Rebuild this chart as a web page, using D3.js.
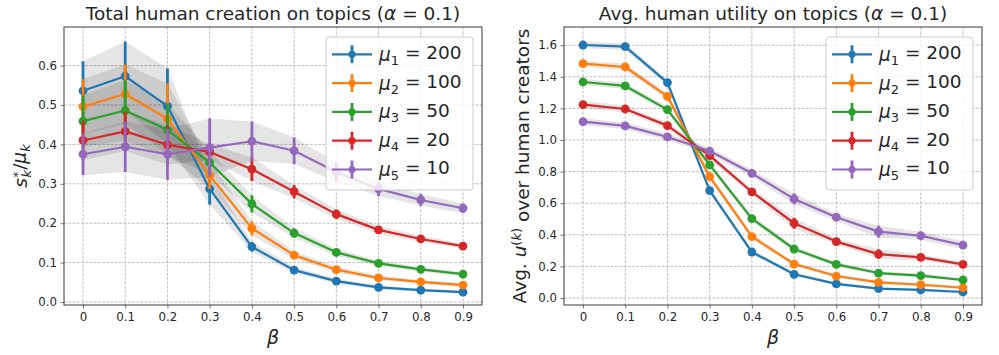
<!DOCTYPE html>
<html>
<head>
<meta charset="utf-8">
<script src="https://cdn.jsdelivr.net/npm/d3@7"></script>
<style>
  html, body { margin: 0; padding: 0; background: #fff; }
  svg { display: block; font-family: "DejaVu Sans", sans-serif; }
</style>
</head>
<body>
<svg id="chart" width="999" height="355"></svg>
<script>
// ---------------- DATA ----------------
const betas = [0, 0.1, 0.2, 0.3, 0.4, 0.5, 0.6, 0.7, 0.8, 0.9];
const xTickLabels = ["0", "0.1", "0.2", "0.3", "0.4", "0.5", "0.6", "0.7", "0.8", "0.9"];
const seriesNames = ["1", "2", "3", "4", "5"];
const seriesMu = ["200", "100", "50", "20", "10"];
const colors = ["#1f77b4", "#ff7f0e", "#2ca02c", "#d62728", "#9467bd"];

// Left panel: s*_k / mu_k
const leftTicks = [0.0, 0.1, 0.2, 0.3, 0.4, 0.5, 0.6];
const leftTickLabels = ["0.0", "0.1", "0.2", "0.3", "0.4", "0.5", "0.6"];
const s1 = [0.536, 0.573, 0.497, 0.287, 0.140, 0.081, 0.053, 0.037, 0.030, 0.025];
const s2 = [0.496, 0.528, 0.465, 0.322, 0.187, 0.119, 0.082, 0.061, 0.051, 0.043];
const s3 = [0.459, 0.486, 0.437, 0.354, 0.249, 0.175, 0.126, 0.098, 0.083, 0.071];
const s4 = [0.410, 0.433, 0.399, 0.381, 0.337, 0.280, 0.223, 0.183, 0.160, 0.142];
const s5 = [0.375, 0.394, 0.375, 0.392, 0.408, 0.384, 0.330, 0.287, 0.259, 0.238];
const se1 = [0.075, 0.088, 0.096, 0.040, 0.012, 0.008, 0.006, 0.005, 0.004, 0.004];
const se2 = [0.070, 0.075, 0.090, 0.035, 0.018, 0.010, 0.008, 0.006, 0.005, 0.005];
const se3 = [0.065, 0.077, 0.067, 0.030, 0.022, 0.012, 0.009, 0.007, 0.006, 0.005];
const se4 = [0.050, 0.050, 0.050, 0.020, 0.030, 0.017, 0.012, 0.010, 0.008, 0.007];
const se5 = [0.053, 0.064, 0.065, 0.074, 0.050, 0.034, 0.025, 0.018, 0.015, 0.012];

// Right panel: avg u^(k) over human creators
const rightTicks = [0.0, 0.2, 0.4, 0.6, 0.8, 1.0, 1.2, 1.4, 1.6];
const rightTickLabels = ["0.0", "0.2", "0.4", "0.6", "0.8", "1.0", "1.2", "1.4", "1.6"];
const u1 = [1.601, 1.591, 1.363, 0.679, 0.291, 0.150, 0.089, 0.059, 0.051, 0.038];
const u2 = [1.483, 1.462, 1.276, 0.768, 0.388, 0.215, 0.139, 0.099, 0.084, 0.065];
const u3 = [1.367, 1.342, 1.192, 0.842, 0.502, 0.310, 0.213, 0.158, 0.141, 0.114];
const u4 = [1.224, 1.196, 1.091, 0.901, 0.671, 0.473, 0.357, 0.278, 0.257, 0.213];
const u5 = [1.116, 1.089, 1.019, 0.930, 0.789, 0.627, 0.511, 0.420, 0.394, 0.335];
const ue1 = [0.020, 0.020, 0.020, 0.020, 0.015, 0.012, 0.010, 0.008, 0.008, 0.008];
const ue2 = [0.020, 0.020, 0.020, 0.020, 0.018, 0.014, 0.012, 0.010, 0.010, 0.010];
const ue3 = [0.020, 0.020, 0.020, 0.020, 0.020, 0.018, 0.015, 0.012, 0.012, 0.012];
const ue4 = [0.022, 0.022, 0.022, 0.022, 0.022, 0.035, 0.018, 0.030, 0.018, 0.015];
const ue5 = [0.022, 0.022, 0.022, 0.022, 0.022, 0.035, 0.022, 0.038, 0.025, 0.025];

// ---------------- LAYOUT ----------------
const svg = d3.select("#chart");
const plotTop = 27, plotBottom = 305;

const panels = [
  {
    x0: 64, x1: 482,
    yDomain: [-0.0076, 0.698],
    ticks: leftTicks, tickLabels: leftTickLabels,
    means: [s1, s2, s3, s4, s5], errs: [se1, se2, se3, se4, se5],
    title: "left", ylabel: "left", labelX: 21
  },
  {
    x0: 564, x1: 982,
    yDomain: [-0.0443, 1.715],
    ticks: rightTicks, tickLabels: rightTickLabels,
    means: [u1, u2, u3, u4, u5], errs: [ue1, ue2, ue3, ue4, ue5],
    title: "right", ylabel: "right", labelX: 520
  }
];

const textColor = "#262626";

panels.forEach(p => {
  const x = d3.scaleLinear().domain([-0.045, 0.945]).range([p.x0, p.x1]);
  const y = d3.scaleLinear().domain(p.yDomain).range([plotBottom, plotTop]);
  const g = svg.append("g");

  // grid
  const grid = g.append("g");
  grid.selectAll("line.gx").data(betas).join("line")
    .attr("x1", d => x(d)).attr("x2", d => x(d))
    .attr("y1", plotTop).attr("y2", plotBottom)
    .attr("stroke", "#b0b0b0").attr("stroke-width", 0.8).attr("stroke-dasharray", "2.96,1.28");
  grid.selectAll("line.gy").data(p.ticks).join("line")
    .attr("x1", p.x0).attr("x2", p.x1)
    .attr("y1", d => y(d)).attr("y2", d => y(d))
    .attr("stroke", "#b0b0b0").attr("stroke-width", 0.8).attr("stroke-dasharray", "2.96,1.28");

  // bands
  const area = d3.area()
    .x((d, i) => x(betas[i]))
    .y0(d => y(d[0] - d[1]))
    .y1(d => y(d[0] + d[1]));
  p.means.forEach((m, si) => {
    const pts = m.map((v, i) => [v, p.errs[si][i]]);
    g.append("path").attr("d", area(pts))
      .attr("fill", "#000").attr("fill-opacity", 0.1).attr("stroke", "none");
  });

  // series
  const line = d3.line().x((d, i) => x(betas[i])).y(d => y(d));
  p.means.forEach((m, si) => {
    const sg = g.append("g");
    sg.selectAll("line.err").data(m).join("line")
      .attr("x1", (d, i) => x(betas[i])).attr("x2", (d, i) => x(betas[i]))
      .attr("y1", (d, i) => y(d - p.errs[si][i])).attr("y2", (d, i) => y(d + p.errs[si][i]))
      .attr("stroke", colors[si]).attr("stroke-width", 2.8);
    sg.append("path").attr("d", line(m))
      .attr("fill", "none").attr("stroke", colors[si]).attr("stroke-width", 2.2)
      .attr("stroke-linejoin", "round");
    sg.selectAll("circle").data(m).join("circle")
      .attr("cx", (d, i) => x(betas[i])).attr("cy", d => y(d))
      .attr("r", 4.4).attr("fill", colors[si]);
  });

  // axes
  const xAxis = d3.axisBottom(x).tickValues(betas)
    .tickFormat((d, i) => xTickLabels[i]).tickSize(3.5).tickPadding(3.5);
  const yAxis = d3.axisLeft(y).tickValues(p.ticks)
    .tickFormat((d, i) => p.tickLabels[i]).tickSize(3.5).tickPadding(3.5);
  const gx = g.append("g").attr("transform", `translate(0,${plotBottom})`).call(xAxis);
  const gy = g.append("g").attr("transform", `translate(${p.x0},0)`).call(yAxis);
  [gx, gy].forEach(a => {
    a.select(".domain").remove();
    a.selectAll(".tick line").attr("stroke", "#555").attr("stroke-width", 0.8);
    a.selectAll(".tick text").attr("fill", textColor)
      .style("font-family", "DejaVu Sans").style("font-size", "11.8px");
  });
  gx.selectAll(".tick text").attr("dy", "0.75em");

  // frame
  g.append("rect").attr("x", p.x0).attr("y", plotTop)
    .attr("width", p.x1 - p.x0).attr("height", plotBottom - plotTop)
    .attr("fill", "none").attr("stroke", "#3a3a3a").attr("stroke-width", 1);

  const cx = (p.x0 + p.x1) / 2;
  // title
  const t = g.append("text").attr("x", cx).attr("y", 20).attr("text-anchor", "middle")
    .attr("fill", textColor).style("font-size", "18.5px");
  t.append("tspan").text(p.title === "left" ? "Total human creation on topics (" : "Avg. human utility on topics (");
  t.append("tspan").style("font-style", "italic").text("α");
  t.append("tspan").text(" = 0.1)");

  // x label
  g.append("text").attr("x", cx).attr("y", 344).attr("text-anchor", "middle")
    .attr("fill", textColor).style("font-size", "19px").style("font-style", "italic").text("β");

  // y label
  const yl = g.append("text")
    .attr("transform", `translate(${p.labelX},${(plotTop + plotBottom) / 2}) rotate(-90)`)
    .attr("text-anchor", "middle").attr("dy", "0.35em")
    .attr("fill", textColor).style("font-size", "18.5px");
  if (p.ylabel === "left") {
    yl.append("tspan").style("font-style", "italic").text("s");
    yl.append("tspan").attr("dy", "-0.45em").style("font-size", "13px").text("*");
    yl.append("tspan").attr("dx", "-0.45em").attr("dy", "0.75em").style("font-size", "13px").style("font-style", "italic").text("k");
    yl.append("tspan").attr("dy", "-0.3em").text("/");
    yl.append("tspan").style("font-style", "italic").text("μ");
    yl.append("tspan").attr("dy", "0.3em").style("font-size", "13px").style("font-style", "italic").text("k");
  } else {
    yl.append("tspan").text("Avg. ");
    yl.append("tspan").style("font-style", "italic").text("u");
    yl.append("tspan").attr("dy", "-0.45em").style("font-size", "13px").text("(");
    yl.append("tspan").style("font-size", "13px").style("font-style", "italic").text("k");
    yl.append("tspan").style("font-size", "13px").text(")");
    yl.append("tspan").attr("dy", "0.45em").text(" over human creators");
  }

  // legend
  const lx = p.x1 - 156, ly = 37, lw = 147, lh = 153;
  const lg = g.append("g");
  lg.append("rect").attr("x", lx).attr("y", ly).attr("width", lw).attr("height", lh)
    .attr("rx", 3).attr("fill", "#fff").attr("fill-opacity", 0.8)
    .attr("stroke", "#cccccc").attr("stroke-width", 1);
  seriesNames.forEach((nm, si) => {
    const ry = 54.3 + si * 28.8;
    const hx0 = lx + 6, hx1 = lx + 46, hc = (hx0 + hx1) / 2;
    lg.append("line").attr("x1", hx0).attr("x2", hx1).attr("y1", ry).attr("y2", ry)
      .attr("stroke", colors[si]).attr("stroke-width", 2.2);
    lg.append("line").attr("x1", hc).attr("x2", hc).attr("y1", ry - 9).attr("y2", ry + 9)
      .attr("stroke", colors[si]).attr("stroke-width", 2.8);
    lg.append("circle").attr("cx", hc).attr("cy", ry).attr("r", 3.6).attr("fill", colors[si]);
    const tt = lg.append("text").attr("x", lx + 53).attr("y", ry + 6.5)
      .attr("fill", textColor).style("font-size", "18.5px");
    tt.append("tspan").style("font-style", "italic").text("μ");
    tt.append("tspan").attr("dy", "0.3em").style("font-size", "13px").text(nm);
    tt.append("tspan").attr("dy", "-0.3em").text(" = " + seriesMu[si]);
  });
});
</script>
</body>
</html>
